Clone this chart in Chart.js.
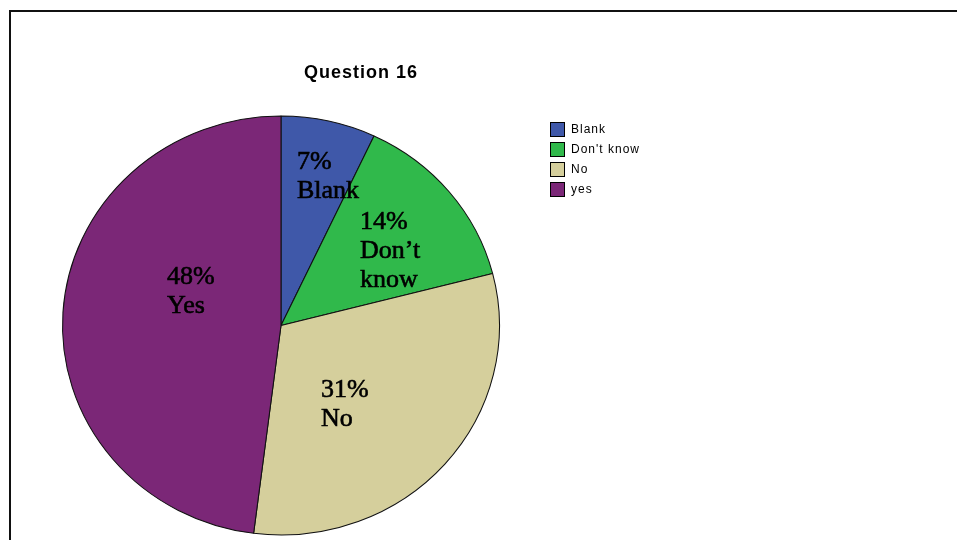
<!DOCTYPE html>
<html>
<head>
<meta charset="utf-8">
<script src="https://cdn.jsdelivr.net/npm/chart.js@4/dist/chart.umd.min.js"></script>
<style>
  html, body { margin: 0; padding: 0; background: #fff; overflow: hidden; }
  #wrap { position: relative; width: 957px; height: 540px; }
  #frame { position: absolute; left: 9px; top: 10px; width: 1000px; height: 600px;
           border: 2px solid #111; box-sizing: border-box; }
  canvas { position: absolute; left: 0; top: 0; }
</style>
</head>
<body>
<div id="wrap">
  <div id="frame"></div>
  <canvas id="c" width="957" height="540"></canvas>
</div>
<script>
// Question 16 responses, in percent
const categories = ['Blank', "Don't know", 'No', 'yes'];
const sliceNames = ['Blank', 'Don\u2019t\nknow', 'No', 'Yes'];
const percents = [7, 14, 31, 48];
const colors = ['#3f58a9', '#30b94b', '#d5cf9c', '#7b2777'];
const titleText = 'Question 16';

// Text anchors for the in-slice labels, relative to the pie centre
const labelOffsets = [[16, -157], [79, -97], [40, 71], [-114, -42]];

// Pie is drawn slightly wider than tall
const stretchX = 219 / 210;

const ellipsePlugin = {
  id: 'ellipse',
  beforeDatasetsDraw(chart) {
    const arc = chart.getDatasetMeta(0).data[0];
    const ctx = chart.ctx;
    ctx.save();
    ctx.translate(arc.x, arc.y);
    ctx.scale(stretchX, 1);
    ctx.translate(-arc.x, -arc.y);
  },
  afterDatasetsDraw(chart) {
    chart.ctx.restore();
  }
};

const textPlugin = {
  id: 'texts',
  afterDraw(chart) {
    const ctx = chart.ctx;
    const arc = chart.getDatasetMeta(0).data[0];
    const cx = arc.x, cy = arc.y;

    // Title
    ctx.save();
    ctx.fillStyle = '#000';
    ctx.font = 'bold 18px "Liberation Sans", Arial, sans-serif';
    ctx.letterSpacing = '1px';
    ctx.textAlign = 'center';
    ctx.textBaseline = 'middle';
    ctx.fillText(titleText, 361, 73);
    ctx.restore();

    // Slice labels
    ctx.save();
    ctx.fillStyle = '#000';
    ctx.strokeStyle = '#000';
    ctx.lineWidth = 0.6;
    ctx.font = '26px "Liberation Serif", "Times New Roman", serif';
    ctx.textAlign = 'left';
    ctx.textBaseline = 'alphabetic';
    percents.forEach((v, i) => {
      const lines = [v + '%'].concat(sliceNames[i].split('\n'));
      const x = cx + labelOffsets[i][0];
      let y = cy + labelOffsets[i][1];
      lines.forEach(line => {
        ctx.fillText(line, x, y);
        ctx.strokeText(line, x, y);
        y += 29;
      });
    });
    ctx.restore();

    // Legend
    ctx.save();
    ctx.font = '12px "Liberation Sans", Arial, sans-serif';
    ctx.letterSpacing = '1px';
    ctx.textBaseline = 'middle';
    categories.forEach((name, i) => {
      const y = 122 + i * 20;
      ctx.fillStyle = colors[i];
      ctx.fillRect(550, y, 14, 14);
      ctx.strokeStyle = '#000';
      ctx.lineWidth = 1;
      ctx.strokeRect(550.5, y + 0.5, 14, 14);
      ctx.fillStyle = '#000';
      ctx.fillText(name, 571, y + 7.5);
    });
    ctx.restore();
  }
};

new Chart(document.getElementById('c'), {
  type: 'pie',
  data: {
    labels: categories,
    datasets: [{
      data: percents,
      backgroundColor: colors,
      borderColor: '#111',
      borderWidth: 1
    }]
  },
  options: {
    responsive: false,
    animation: false,
    layout: { padding: { left: 71, right: 466, top: 115, bottom: 4 } },
    plugins: {
      legend: { display: false },
      title: { display: false },
      tooltip: { enabled: false }
    }
  },
  plugins: [ellipsePlugin, textPlugin]
});
</script>
</body>
</html>
